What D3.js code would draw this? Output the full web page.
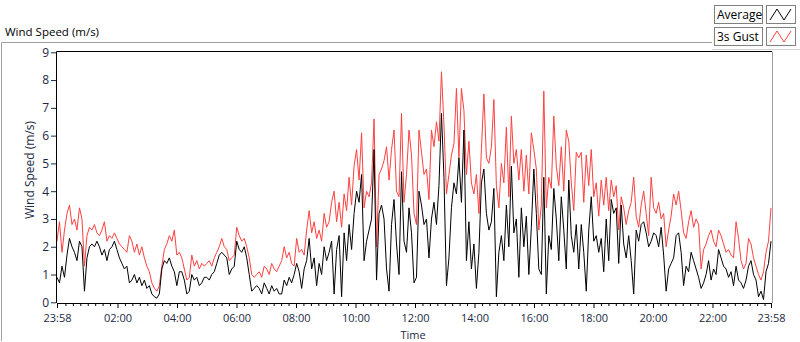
<!DOCTYPE html>
<html><head><meta charset="utf-8">
<script src="https://cdn.jsdelivr.net/npm/d3@7"></script>
<style>body{margin:0;background:#fff} svg text{font-family:"Open Sans",sans-serif}</style>
</head><body><svg id="c" width="800" height="342"></svg>
<script>
const seriesNames = ["Average", "3s Gust"];
const tickLabels = ["23:58","02:00","04:00","06:00","08:00","10:00","12:00","14:00","16:00","18:00","20:00","22:00","23:58"];
const yTicks = [0,1,2,3,4,5,6,7,8,9];
const gust = [
2.2,2.9,1.8,2.6,3.2,3.5,2.8,3.0,2.6,3.4,
3.0,1.3,2.4,2.7,2.6,2.8,2.5,2.4,2.6,2.9,
2.2,2.4,2.3,2.5,2.3,2.1,2.0,1.9,1.8,2.4,
2.2,1.8,2.1,1.7,2.0,1.6,1.3,1.1,0.7,0.5,
0.4,0.6,1.3,1.9,2.1,2.4,2.2,2.6,1.7,1.8,
1.6,1.2,0.8,0.9,1.7,1.3,1.5,1.2,1.4,1.3,
1.4,1.5,1.3,1.6,1.8,2.0,2.3,2.0,1.9,1.5,
1.6,1.7,2.7,2.4,2.2,2.3,2.0,1.6,1.0,0.9,
1.0,1.1,0.9,1.3,1.2,1.0,1.4,1.2,1.1,1.3,
1.5,2.0,1.6,1.8,1.4,1.3,2.3,1.8,1.9,1.7,
2.6,3.3,2.5,2.9,2.3,2.6,2.2,3.2,2.7,2.9,
3.6,4.0,2.9,3.6,2.7,3.9,3.3,4.5,3.5,4.9,
5.5,4.4,6.1,3.4,4.0,3.8,4.3,6.6,2.0,4.6,
4.8,5.1,5.6,4.4,5.5,6.2,4.0,3.8,6.8,3.6,
4.6,6.2,5.3,3.2,2.8,6.2,5.4,4.6,4.8,3.7,
6.2,5.6,6.5,5.8,8.3,6.4,3.9,4.6,5.3,5.7,
7.7,5.2,7.7,6.9,4.6,5.8,4.3,3.9,4.6,3.2,
5.5,7.5,5.2,5.0,5.6,7.3,4.2,3.4,5.0,4.3,
6.3,3.8,6.7,5.0,5.5,4.4,5.5,4.0,5.3,3.9,
6.1,5.5,4.8,2.6,3.5,7.6,3.4,4.5,4.1,6.7,
4.9,4.2,5.6,4.0,6.2,5.8,4.3,3.3,5.4,5.2,
5.4,3.6,5.3,4.2,5.5,3.8,4.3,3.1,4.4,3.5,
4.5,3.3,4.4,3.8,4.2,2.6,3.8,3.4,2.8,3.3,
3.6,4.5,3.1,2.7,3.5,4.0,3.2,2.4,4.5,3.4,
3.2,3.6,3.0,3.2,2.0,2.6,3.1,3.9,3.5,4.0,
3.3,2.5,2.3,2.9,3.3,2.7,3.0,2.8,1.2,1.9,
2.1,2.4,2.6,2.2,2.0,2.6,2.4,2.1,1.8,1.9,
1.7,1.6,2.9,2.3,1.5,1.2,1.4,2.3,2.1,1.6,
1.3,1.0,0.8,1.1,1.8,2.2,3.4];
const average = [
0.9,0.7,1.3,0.9,1.7,2.3,2.0,1.8,1.5,2.2,
2.0,0.4,1.6,2.0,2.1,2.0,2.2,2.0,1.7,1.9,
1.5,1.9,2.0,2.2,1.9,1.6,1.4,1.2,1.3,0.7,
0.8,1.0,0.7,0.9,0.6,0.8,0.5,0.6,0.3,0.2,
0.15,0.3,1.2,1.5,1.4,1.6,1.3,1.1,0.6,1.1,
1.1,0.8,0.3,0.4,1.0,0.8,0.9,0.6,0.7,0.9,
0.9,0.8,1.0,1.1,1.4,1.7,1.8,1.7,1.6,1.0,
1.2,1.3,2.2,1.9,1.8,2.0,1.6,1.0,0.4,0.5,
0.6,0.5,0.3,0.7,0.5,0.3,0.6,0.4,0.5,0.3,
0.3,0.8,0.6,0.9,0.7,1.0,1.4,1.1,0.5,1.2,
1.5,2.3,1.2,1.6,0.6,1.4,1.0,2.0,1.5,1.8,
2.2,0.3,1.9,2.4,0.2,2.5,1.5,2.8,1.9,3.2,
4.0,3.6,4.6,1.5,2.2,2.6,3.0,5.5,0.8,3.2,
3.5,3.0,1.2,0.4,2.8,3.7,2.1,1.0,4.7,2.2,
1.8,3.4,2.5,0.7,0.9,4.0,3.5,2.8,3.0,1.6,
3.0,3.6,2.8,4.2,6.8,4.5,0.6,1.6,3.4,4.3,
3.9,5.2,3.6,6.2,1.5,2.9,1.2,2.1,0.5,1.8,
4.3,4.8,3.2,2.6,2.9,4.1,0.2,1.8,2.4,1.5,
3.5,2.0,4.9,2.5,3.0,0.9,3.4,2.0,3.1,1.0,
2.7,4.8,3.2,1.2,1.0,4.5,0.3,2.4,1.9,4.1,
3.0,1.5,3.8,2.6,1.2,4.4,2.4,1.8,2.8,1.2,
2.8,1.8,0.4,2.6,3.8,2.2,2.4,1.8,2.3,1.1,
3.0,1.5,3.7,3.2,3.4,1.4,3.5,2.1,1.6,2.4,
1.5,0.3,2.6,2.2,2.8,2.9,2.5,2.0,2.2,2.5,
2.4,2.0,2.7,1.7,0.4,1.2,1.4,1.6,2.4,2.5,
1.8,0.6,1.3,1.1,1.8,1.5,1.2,0.9,0.5,0.7,
1.0,1.5,0.8,1.2,1.0,1.9,1.6,1.3,1.2,0.9,
1.1,0.6,1.3,0.8,0.7,0.5,0.8,1.3,1.5,1.0,
0.8,0.2,0.4,0.1,1.1,1.4,2.2];

const svg = d3.select("#c");
const t0 = new Date(2000,0,1,23,58), t1 = new Date(2000,0,2,23,58);
const n = gust.length;
const times = d3.range(n).map(i => new Date(+t0 + (t1 - t0) * i / (n - 1)));
const x = d3.scaleTime().domain([t0, t1]).range([57, 771]);
const y = d3.scaleLinear().domain([0, 9]).range([302.3, 52.3]);
const labelCol = "#1b2a44";

svg.append("rect").attr("width",800).attr("height",342).attr("fill","#fff");
svg.append("path").attr("d","M1.5,341 V42.5 H712").attr("stroke","#a0a0a0").attr("fill","none");
svg.append("text").attr("x",5).attr("y",36).attr("font-size",11.5).attr("fill","#000").text("Wind Speed (m/s)");

svg.append("rect").attr("x",56.5).attr("y",51.5).attr("width",715.5).attr("height",251)
  .attr("fill","#fff").attr("stroke","none");

const line = v => d3.line().x((d,i)=>x(times[i])).y(d=>y(d))(v);
svg.append("path").attr("d", line(gust)).attr("fill","none").attr("stroke","#ff4040").attr("stroke-width",1);
svg.append("path").attr("d", line(average)).attr("fill","none").attr("stroke","#000").attr("stroke-width",1);

svg.append("path").attr("d","M56.5,303 V51.5 H772").attr("stroke","#000").attr("fill","none");
svg.append("path").attr("d","M772.5,51.5 V303").attr("stroke","#a0a0a0").attr("fill","none");

const yAx = svg.append("g").attr("transform","translate(56,0)")
  .call(d3.axisLeft(y).tickValues(yTicks).tickSize(5).tickSizeOuter(0).tickFormat(d3.format("d")));
yAx.select(".domain").remove();
yAx.selectAll("text").attr("fill",labelCol).attr("font-size",12).attr("font-family","Open Sans").attr("x",-7);
yAx.selectAll("line").attr("stroke",labelCol);

const major = [t0].concat(d3.range(1,12).map(h => new Date(2000,0,2,2*h,0))).concat([t1]);
const minor = d3.timeMinute.every(15).range(new Date(2000,0,2,0,0), t1).filter(d => d.getMinutes() !== 0 || d.getHours() % 2 !== 0);
const xAx = svg.append("g").attr("transform","translate(0,303)")
  .call(d3.axisBottom(x).tickValues(major).tickSize(5).tickSizeOuter(0).tickFormat((d,i)=>tickLabels[i]));
xAx.select(".domain").attr("stroke","#000").attr("d","M57,0.5H771");
xAx.selectAll("text").attr("fill",labelCol).attr("font-size",11).attr("font-family","Open Sans").attr("y",11.2);
xAx.selectAll("line").attr("stroke","#000");
const xMin = svg.append("g").attr("transform","translate(0,303)")
  .call(d3.axisBottom(x).tickValues(minor).tickSize(3).tickSizeOuter(0).tickFormat(""));
xMin.select(".domain").remove();
xMin.selectAll("line").attr("stroke","#000");

svg.append("text").attr("x",413).attr("y",339).attr("text-anchor","middle").attr("font-size",11).attr("fill",labelCol).text("Time");
svg.append("text").attr("transform","translate(34,170) rotate(-90)").attr("text-anchor","middle").attr("font-size",12).attr("fill",labelCol).text("Wind Speed (m/s)");

const legCols = ["#000", "#ff4040"];
seriesNames.forEach((s,i) => {
  const g = svg.append("g").attr("transform",`translate(714,${5 + i*22})`);
  g.append("rect").attr("x",0.5).attr("y",0.5).attr("width",48).attr("height",18).attr("fill","#fff").attr("stroke","#808080");
  g.append("text").attr("x",3).attr("y",14).attr("font-size",12).attr("fill","#000").text(s);
  g.append("rect").attr("x",52.5).attr("y",0.5).attr("width",29).attr("height",18).attr("fill","#fff").attr("stroke","#808080");
  g.append("path").attr("d","M56,15 L63,4 L70,15 L77,4").attr("fill","none").attr("stroke",legCols[i]);
});
svg.append("path").attr("d","M712,49.5 H800").attr("stroke","#d0d0d0");
</script></body></html>
